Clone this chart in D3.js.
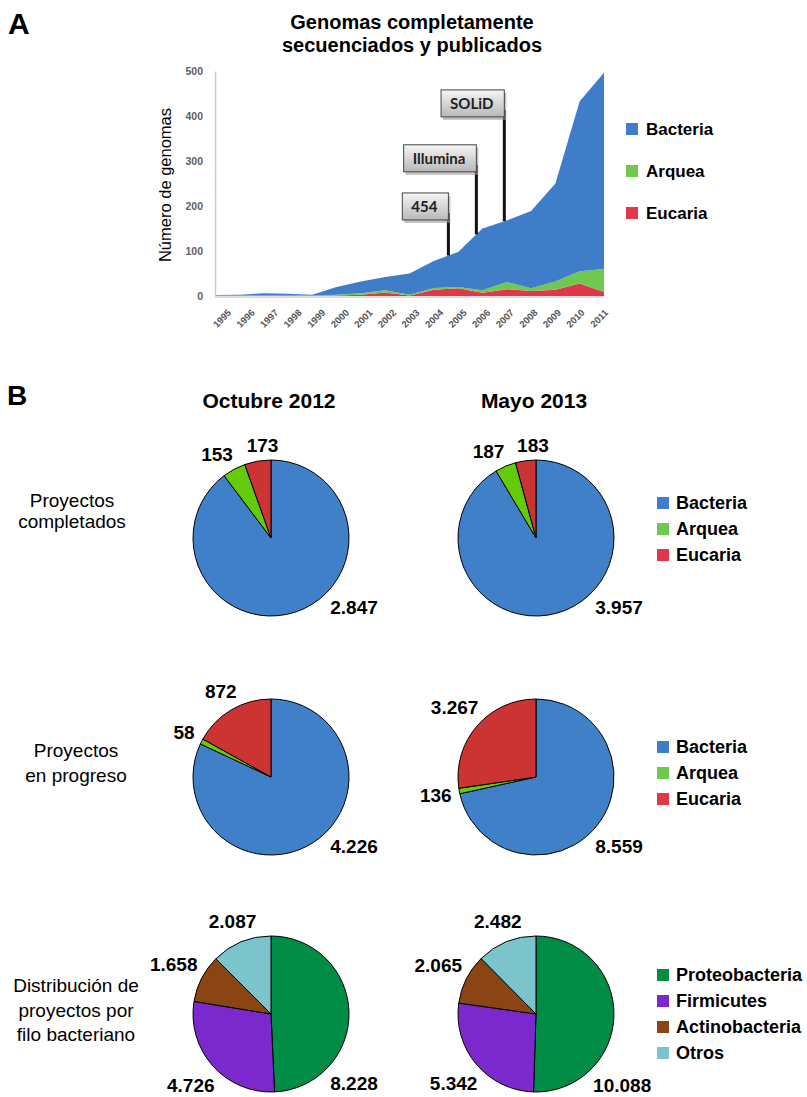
<!DOCTYPE html>
<html>
<head>
<meta charset="utf-8">
<script src="https://cdn.jsdelivr.net/npm/d3@7"></script>
<style>
body { margin: 0; background: #fff; }
svg { display: block; font-family: "Liberation Sans", Arial, sans-serif; }
</style>
</head>
<body>
<script>
// ---- datos panel A (genomas publicados por año)
var years = d3.range(1995, 2012);
var bacteria = [1, 2, 4, 3, 2, 17, 26, 29, 47, 60, 78, 137, 137, 172, 218, 378, 436];
var arquea = [1, 1, 2, 2, 1, 2, 3, 5, 2, 4, 3, 6, 16, 6, 18, 27, 51];
var eucaria = [0, 0, 0, 0, 0, 1, 3, 8, 1, 14, 17, 7, 15, 11, 14, 28, 9];
var yTicks = [0, 100, 200, 300, 400, 500];
var techNames = ["454", "Illumina", "SOLiD"];
var techYears = [2004.6, 2005.75, 2006.9];
var techBoxTop = [229, 336, 458];

// ---- datos panel B
var domainNames = ["Bacteria", "Arquea", "Eucaria"];
var phylumNames = ["Proteobacteria", "Firmicutes", "Actinobacteria", "Otros"];
var columnTitles = ["Octubre 2012", "Mayo 2013"];
var rowTitles = [["Proyectos", "completados"], ["Proyectos", "en progreso"], ["Distribución de", "proyectos por", "filo bacteriano"]];
var completados = [[2847, 153, 173], [3957, 187, 183]];
var enProgreso = [[4226, 58, 872], [8559, 136, 3267]];
var filos = [[8228, 4726, 1658, 2087], [10088, 5342, 2065, 2482]];

var areaColors = ["#3f7dc9", "#6fc84f", "#e0384b"];
var pieDomainColors = ["#4080c9", "#62cc0a", "#cc3434"];
var phylumColors = ["#008c45", "#7b28cc", "#8b4515", "#7bc4cc"];

var es = d3.formatLocale({decimal: ",", thousands: ".", grouping: [3], currency: ["", "€"]});
var fmt = es.format(",d");

var svg = d3.select("body").append("svg").attr("width", 807).attr("height", 1097);
svg.append("rect").attr("width", 807).attr("height", 1097).attr("fill", "#fff");

// ================= Panel A =================
svg.append("text").attr("x", 8).attr("y", 34).attr("font-size", 30).attr("font-weight", "bold").text("A");

var title = svg.append("text").attr("text-anchor", "middle").attr("font-size", 20).attr("font-weight", "bold");
title.append("tspan").attr("x", 412).attr("y", 29).text("Genomas completamente");
title.append("tspan").attr("x", 412).attr("y", 52).text("secuenciados y publicados");

var x = d3.scaleLinear().domain([1995, 2011]).range([215, 604]);
var y = d3.scaleLinear().domain([0, 500]).range([296, 71]);
var xLab = d3.scalePoint().domain(years).range([229, 606]);

var rows = years.map(function(yr, i) {
    return {year: yr, Bacteria: bacteria[i], Arquea: arquea[i], Eucaria: eucaria[i]};
});
var layers = d3.stack().keys(["Eucaria", "Arquea", "Bacteria"])(rows);
var area = d3.area()
    .x(function(d) { return x(d.data.year); })
    .y0(function(d) { return y(d[0]); })
    .y1(function(d) { return y(d[1]); });

var colorOf = {Bacteria: areaColors[0], Arquea: areaColors[1], Eucaria: areaColors[2]};
svg.append("g").selectAll("path").data(layers).enter().append("path")
    .attr("d", area)
    .attr("fill", function(d) { return colorOf[d.key]; });

// ejes
var yAxis = svg.append("g").attr("transform", "translate(215,0)")
    .call(d3.axisLeft(y).tickValues(yTicks).tickSize(0).tickPadding(12));
yAxis.select(".domain").attr("stroke", "#c5cfdc").attr("stroke-width", 1.5);
yAxis.selectAll("text").attr("font-size", 10.5).attr("font-weight", "bold").attr("fill", "#5e5e5e");

svg.append("line").attr("x1", 215).attr("x2", 604).attr("y1", 297).attr("y2", 297)
    .attr("stroke", "#d0d0d0").attr("stroke-width", 1.5);

var xAxis = svg.append("g").attr("transform", "translate(0,311)")
    .call(d3.axisBottom(xLab).tickSize(0));
xAxis.select(".domain").remove();
xAxis.selectAll("text")
    .attr("x", 0).attr("y", 0).attr("dy", "0.35em")
    .attr("text-anchor", "end")
    .attr("transform", "rotate(-45)")
    .attr("font-size", 9.5).attr("font-weight", "bold").attr("fill", "#555");

svg.append("text").attr("transform", "translate(171,185) rotate(-90)")
    .attr("text-anchor", "middle").attr("font-size", 16.5).text("Número de genomas");

// anotaciones de tecnologías
var totals = rows.map(function(r) { return r.Bacteria + r.Arquea + r.Eucaria; });
function totalAt(t) {
    var i = Math.floor(t - 1995), f = t - 1995 - i;
    return totals[i] + f * (totals[i + 1] - totals[i]);
}
var grad = svg.append("defs").append("linearGradient").attr("id", "boxg")
    .attr("x1", 0).attr("x2", 0).attr("y1", 0).attr("y2", 1);
grad.append("stop").attr("offset", 0).attr("stop-color", "#f5f5f5");
grad.append("stop").attr("offset", 1).attr("stop-color", "#b8b8b8");

techNames.forEach(function(name, i) {
    var lx = x(techYears[i]), top = y(techBoxTop[i]), g = svg.append("g");
    g.append("line").attr("x1", lx).attr("x2", lx).attr("y1", top + 20).attr("y2", y(totalAt(techYears[i])))
        .attr("stroke", "#111").attr("stroke-width", 3);
    var shadow = g.append("rect").attr("fill", "#9a9a9a").attr("opacity", 0.6);
    var box = g.append("rect").attr("fill", "url(#boxg)").attr("stroke", "#444").attr("stroke-width", 1);
    var t = g.append("text").attr("font-family", "Lato, 'Open Sans', sans-serif").attr("font-weight", "bold")
        .attr("font-size", 15).attr("fill", "#222").text(name);
    var w = t.node().getComputedTextLength() + 20;
    box.attr("x", lx - w).attr("y", top).attr("width", w).attr("height", 27);
    shadow.attr("x", lx - w + 2).attr("y", top + 3).attr("width", w).attr("height", 27);
    t.attr("x", lx - w + 9).attr("y", top + 19);
});

// leyenda A
var legA = svg.append("g").selectAll("g").data(domainNames).enter().append("g")
    .attr("transform", function(d, i) { return "translate(626," + (129 + i * 42) + ")"; });
legA.append("rect").attr("y", -6).attr("width", 12).attr("height", 12)
    .attr("fill", function(d, i) { return areaColors[i]; });
legA.append("text").attr("x", 20).attr("dy", "0.36em").attr("font-size", 17).attr("font-weight", "bold").text(function(d) { return d; });

// ================= Panel B =================
svg.append("text").attr("x", 7).attr("y", 405).attr("font-size", 28).attr("font-weight", "bold").text("B");

var colX = [271, 536];
var rowY = [538, 777, 1014];
var R = 78;

columnTitles.forEach(function(t, i) {
    svg.append("text").attr("x", colX[i] - 2).attr("y", 408).attr("text-anchor", "middle")
        .attr("font-size", 21).attr("font-weight", "bold").text(t);
});

var rowLabelX = [72, 76, 76];
var rowLabelBase = [507, 757, 992];
rowTitles.forEach(function(lines, r) {
    var t = svg.append("text").attr("text-anchor", "middle").attr("font-size", 19);
    lines.forEach(function(l, k) {
        t.append("tspan").attr("x", rowLabelX[r]).attr("y", rowLabelBase[r] + k * (r === 0 ? 21 : 24.5)).text(l);
    });
});

var pie = d3.pie().sort(null).value(function(d) { return d; });
var arc = d3.arc().innerRadius(0).outerRadius(R);

function placeLabel(p) {
    var r = R + 7 + Math.abs(Math.sin(p.a)) * p.w / 2 + Math.abs(Math.cos(p.a)) * 7;
    p.x = Math.sin(p.a) * r;
    p.y = -Math.cos(p.a) * r;
    d3.select(p.node).attr("x", p.x).attr("y", p.y);
}

function drawPie(cx, cy, values, colors) {
    var g = svg.append("g").attr("transform", "translate(" + cx + "," + cy + ")");
    var arcs = pie(values);
    g.selectAll("path").data(arcs).enter().append("path")
        .attr("d", arc)
        .attr("fill", function(d, i) { return colors[i]; })
        .attr("stroke", "#000").attr("stroke-width", 1);
    var labels = [];
    g.selectAll("text").data(arcs).enter().append("text")
        .attr("text-anchor", "middle").attr("dy", "0.36em")
        .attr("font-size", 19).attr("font-weight", "bold")
        .text(function(d) { return fmt(d.value); })
        .each(function(d, i) {
            // la etiqueta del sector grande va abajo a la derecha
            var p = {node: this, w: this.getComputedTextLength(),
                a: i === 0 ? 0.72 * Math.PI : (d.startAngle + d.endAngle) / 2};
            placeLabel(p);
            labels.push(p);
        });
    // separar etiquetas vecinas que se pisan
    for (var it = 0; it < 80; it++) {
        var moved = false;
        for (var k = 1; k < labels.length - 1; k++) {
            var p = labels[k], q = labels[k + 1];
            if (Math.abs(p.x - q.x) < (p.w + q.w) / 2 + 12 && Math.abs(p.y - q.y) < 16) {
                p.a -= 0.01; q.a += 0.01;
                placeLabel(p); placeLabel(q);
                moved = true;
            }
        }
        if (!moved) break;
    }
}

var pieData = [completados, enProgreso, filos];
pieData.forEach(function(set, r) {
    set.forEach(function(vals, c) {
        drawPie(colX[c], rowY[r], vals, r < 2 ? pieDomainColors : phylumColors);
    });
});

function legend(names, colors, y0) {
    var g = svg.append("g").selectAll("g").data(names).enter().append("g")
        .attr("transform", function(d, i) { return "translate(657," + (y0 + i * 26) + ")"; });
    g.append("rect").attr("y", -6).attr("width", 12).attr("height", 12)
        .attr("fill", function(d, i) { return colors[i]; });
    g.append("text").attr("x", 19).attr("dy", "0.36em").attr("font-size", 18).attr("font-weight", "bold")
        .text(function(d) { return d; });
}
legend(domainNames, areaColors, 503);
legend(domainNames, areaColors, 747);
legend(phylumNames, phylumColors, 975);
</script>
</body>
</html>
